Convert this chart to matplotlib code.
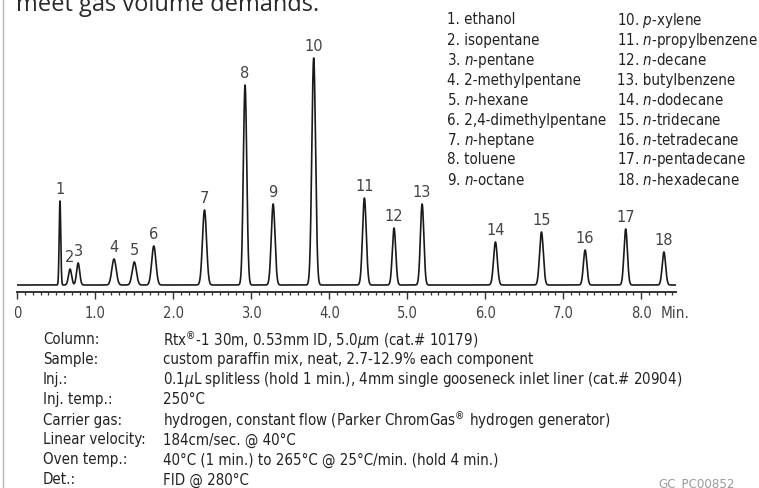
"""
Chromatogram of a custom paraffin mix (Rtx-1 column) with peak key and
instrument conditions underneath.
"""
import numpy as np
import matplotlib
matplotlib.use("Agg")
import matplotlib.pyplot as plt
from matplotlib import font_manager as fm

W, H = 759, 489

# pick a narrow face for the key/conditions if one is installed
_faces = [(f.name, f.stretch) for f in fm.fontManager.ttflist]
if any(n == "DejaVu Sans" and s == "condensed" for n, s in _faces):
    NARROW = dict(family="DejaVu Sans", fontstretch="condensed")
    NARROW_PAT = "DejaVu Sans:stretch=condensed"
    SZ = 10.8
else:
    NARROW = dict(family="Roboto")
    NARROW_PAT = "Roboto"
    SZ = 10.3

plt.rcParams["mathtext.fontset"] = "custom"
plt.rcParams["mathtext.rm"] = NARROW_PAT
plt.rcParams["mathtext.it"] = NARROW_PAT + ":italic"

# peak retention times (min) and heights (signal, arbitrary units)
peak_ids = [str(i) for i in range(1, 19)]
retention = [0.547, 0.676, 0.78, 1.24, 1.50, 1.75, 2.40, 2.92, 3.28, 3.80,
             4.45, 4.83, 5.19, 6.13, 6.72, 7.28, 7.80, 8.29]
heights = [84, 16, 22, 26, 23, 39, 75, 200, 81, 227,
           87, 57, 81, 43, 53, 35, 56, 33]
widths = [0.010, 0.020, 0.020, 0.028, 0.027, 0.027, 0.026, 0.022, 0.024, 0.024,
          0.024, 0.022, 0.022, 0.024, 0.024, 0.022, 0.022, 0.022]

compounds_left = ["1. ethanol", "2. isopentane", "3. $n$-pentane",
                  "4. 2-methylpentane", "5. $n$-hexane",
                  "6. 2,4-dimethylpentane", "7. $n$-heptane", "8. toluene",
                  "9. $n$-octane"]
compounds_right = ["10. $p$-xylene", "11. $n$-propylbenzene", "12. $n$-decane",
                   "13. butylbenzene", "14. $n$-dodecane", "15. $n$-tridecane",
                   "16. $n$-tetradecane", "17. $n$-pentadecane",
                   "18. $n$-hexadecane"]

cond_labels = ["Column:", "Sample:", "Inj.:", "Inj. temp.:", "Carrier gas:",
               "Linear velocity:", "Oven temp.:", "Det.:"]
cond_values = [
    r"Rtx$^{\circledR}$-1 30m, 0.53mm ID, 5.0$\mu$m (cat.# 10179)",
    "custom paraffin mix, neat, 2.7-12.9% each component",
    r"0.1$\mu$L splitless (hold 1 min.), 4mm single gooseneck inlet liner (cat.# 20904)",
    "250°C",
    r"hydrogen, constant flow (Parker ChromGas$^{\circledR}$ hydrogen generator)",
    "184cm/sec. @ 40°C",
    "40°C (1 min.) to 265°C @ 25°C/min. (hold 4 min.)",
    "FID @ 280°C",
]

tick_pos = [0, 1, 2, 3, 4, 5, 6, 7, 8]
tick_labels = ["0", "1.0", "2.0", "3.0", "4.0", "5.0", "6.0", "7.0", "8.0"]


def fx(px):
    return px / W


def fy(py):
    return 1 - py / H


fig = plt.figure(figsize=(W / 100, H / 100), dpi=100)

# page bits around the chart
fig.add_artist(plt.Line2D([fx(3), fx(3)], [0, 1], color="#b5b5b5", lw=1.0))
fig.text(fx(16), fy(11), "meet gas volume demands.", family="Open Sans",
         fontsize=17, color="#2a2a2a", va="baseline", ha="left")

# chromatogram axes, bottom spine is the time ruler
ax = fig.add_axes([fx(17.3), fy(293), fx(676) - fx(17.3), fy(40) - fy(293)])
t = np.linspace(0, 8.445, 8000)
signal = np.zeros_like(t)
for rt, h, w in zip(retention, heights, widths):
    signal += h * np.exp(-0.5 * ((t - rt) / w) ** 2)
ax.plot(t, signal, color="#1a1a1a", lw=1.2, solid_joinstyle="round")

for pid, rt, h in zip(peak_ids, retention, heights):
    ax.annotate(pid, (rt, h), xytext=(0, 3.5), textcoords="offset points",
                ha="center", va="bottom", fontsize=10.5, color="#444444",
                family="DejaVu Sans")

ax.set_xlim(0, 8.445)
ax.set_ylim(-7, 246)
for side in ["top", "left", "right"]:
    ax.spines[side].set_visible(False)
ax.spines["bottom"].set_linewidth(1.4)
ax.spines["bottom"].set_color("#333333")
ax.set_yticks([])
ax.set_xticks(tick_pos)
ax.set_xticklabels(tick_labels)
ax.set_xticks(np.arange(0, 8.45, 0.1), minor=True)
ax.tick_params(axis="x", which="major", length=5, width=1.0, color="#333333",
               pad=4.5, labelsize=10.5, labelcolor="#444444")
ax.tick_params(axis="x", which="minor", length=2.4, width=0.9, color="#333333")
for lab in ax.get_xticklabels():
    lab.set(**NARROW)
ax.patch.set_alpha(0)
fig.text(fx(675), fy(313), "Min.", fontsize=11, color="#444444",
         ha="center", va="center", **NARROW)

# peak key
for i, (a, b) in enumerate(zip(compounds_left, compounds_right)):
    y = fy(20 + 20 * i)
    fig.text(fx(447), y, a, fontsize=SZ, color="#222222",
             va="center", ha="left", **NARROW)
    fig.text(fx(617), y, b, fontsize=SZ, color="#222222",
             va="center", ha="left", **NARROW)

# conditions
for i, (lab, val) in enumerate(zip(cond_labels, cond_values)):
    y = fy(340 + 20 * i)
    fig.text(fx(43), y, lab, fontsize=SZ, color="#222222",
             va="center", ha="left", **NARROW)
    fig.text(fx(163), y, val, fontsize=SZ, color="#222222",
             va="center", ha="left", **NARROW)

fig.text(fx(735), fy(484), "GC_PC00852", fontsize=9.5, color="#9a9a9a",
         ha="right", va="center", **NARROW)

fig.savefig("out.png", dpi=100)
